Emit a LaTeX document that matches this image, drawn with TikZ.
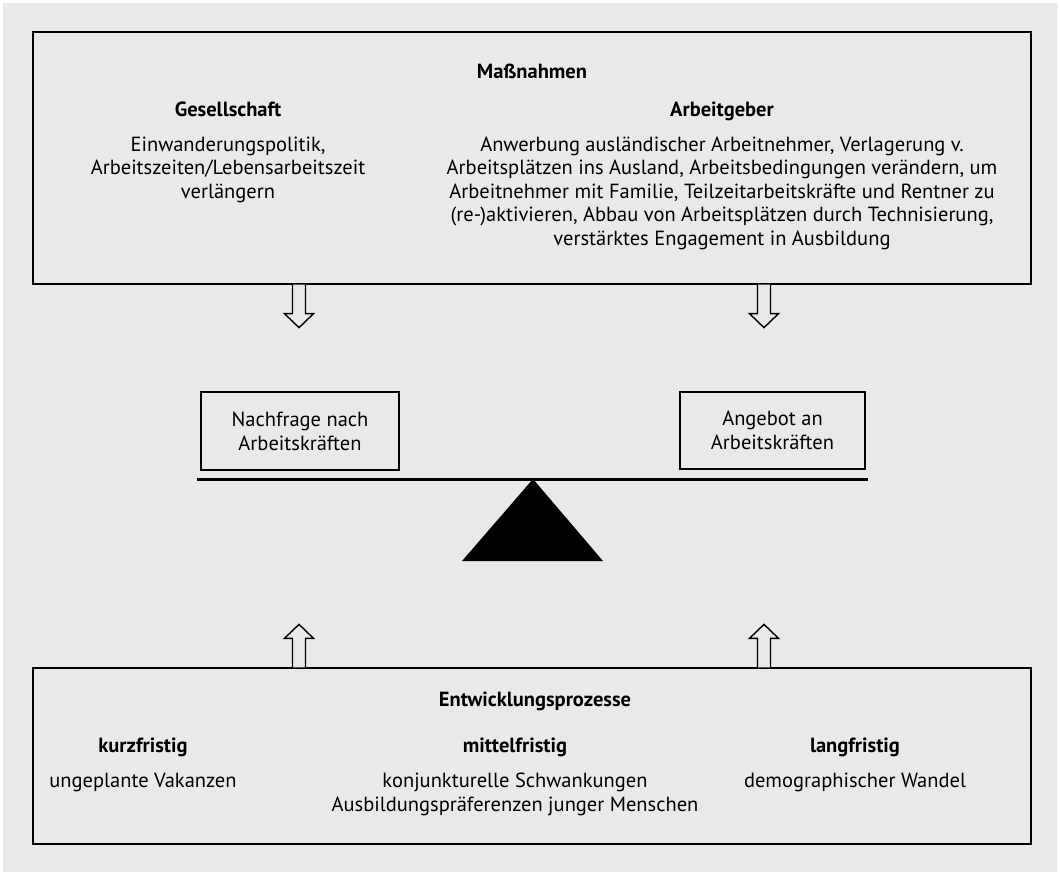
\documentclass[tikz,border=0pt]{standalone}
\usepackage{fontspec}
\setmainfont{PT Sans}
\usetikzlibrary{positioning}
\definecolor{bggray}{RGB}{233,233,233}

\tikzset{
  box/.style={draw, line width=1.3pt, inner sep=0pt},
  txt/.style={align=center, anchor=base, inner sep=0pt, font=\fontsize{20.5}{23.5}\selectfont},
  head/.style={txt, font=\fontsize{20.5}{23.5}\selectfont\bfseries},
  hollowarrow/.pic={
    \draw[line width=1.4pt, fill=bggray]
    (-6.5,0) -- (-6.5,29) -- (-14.5,29) -- (0,43) -- (14.5,29) -- (6.5,29) -- (6.5,0);
  }
}

\begin{document}
\begin{tikzpicture}[x=1pt, y=-1pt]

% background
\useasboundingbox (0,0) rectangle (1060,875);
\fill[white] (0,0) rectangle (1060,875);
\fill[bggray] (3,3) rectangle (1057,872);

% columns
\coordinate (colL) at (299,0);
\coordinate (colR) at (764,0);

%Massnahmen
\node[box, minimum width=998pt, minimum height=252pt] (massn) at (532,158) {};
\node[head] (massnT) at (532,78) {Maßnahmen};
\node[head] (gesT) at (228,116) {Gesellschaft};
% base of a multi-line node = last line
\node[txt] (ges) at (228,198) {Einwanderungspolitik,\\Arbeitszeiten/Lebensarbeitszeit\\verlängern};
\node[head] (agT) at (722,116) {Arbeitgeber};
\node[txt] (ag) at (722,245) {Anwerbung ausländischer Arbeitnehmer, Verlagerung v.\\
  Arbeitsplätzen ins Ausland, Arbeitsbedingungen verändern, um\\
  Arbeitnehmer mit Familie, Teilzeitarbeitskräfte und Rentner zu\\
  (re-)aktivieren, Abbau von Arbeitsplätzen durch Technisierung,\\
  verstärktes Engagement in Ausbildung};

% scale
\node[box, minimum width=198pt, minimum height=78pt, align=center,
  font=\fontsize{20.5}{24}\selectfont] (nachfr) at (300,431) {Nachfrage nach\\Arbeitskräften};
\node[box, minimum width=185pt, minimum height=77pt, align=center,
  font=\fontsize{20.5}{24}\selectfont] (angeb) at (772.5,430.5) {Angebot an\\Arbeitskräften};
\coordinate (beamL) at (197,479);
\coordinate (beamR) at (868,479);
\draw[line width=3pt] (beamL) -- (beamR);
\fill (533,479) -- (603,561) -- (462,561) -- cycle;

%Entwicklungsprozesse
\node[box, minimum width=998pt, minimum height=176pt] (entw) at (532,756) {};
\node[head] (entwT) at (535,706) {Entwicklungsprozesse};
\node[head] (kurzT) at (143,752) {kurzfristig};
\node[txt] (kurz) at (143,787) {ungeplante Vakanzen};
\node[head] (mittelT) at (515,752) {mittelfristig};
\node[txt] (mittel) at (515,811) {konjunkturelle Schwankungen\\Ausbildungspräferenzen junger Menschen};
\node[head] (langT) at (855,752) {langfristig};
\node[txt] (lang) at (855,787) {demographischer Wandel};

% arrows
\pic at (massn.south -| colL) {hollowarrow};
\pic at (massn.south -| colR) {hollowarrow};
\pic[rotate=180] at (entw.north -| colL) {hollowarrow};
\pic[rotate=180] at (entw.north -| colR) {hollowarrow};

\end{tikzpicture}
\end{document}
